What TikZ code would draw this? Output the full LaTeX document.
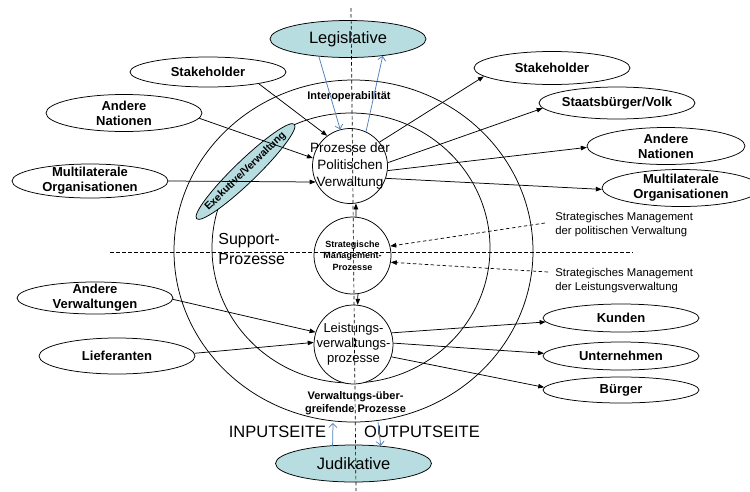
\documentclass[tikz,border=0pt]{standalone}
\usepackage{fontspec}
\setmainfont{Liberation Sans}
\usetikzlibrary{shapes.geometric,arrows.meta,calc}
\definecolor{tealfill}{RGB}{183,221,224}
\definecolor{bluearrow}{RGB}{79,129,189}
\begin{document}
\begin{tikzpicture}[x=1pt,y=-1pt, line width=0.75pt,
  ell/.style={ellipse, draw, fill=white, inner xsep=0pt, inner ysep=-5pt, minimum width=156pt, align=center, font=\fontsize{13}{15}\selectfont\bfseries},
  gov/.style={ellipse, draw, fill=tealfill, inner sep=0pt, minimum width=156pt, minimum height=37pt, font=\fontsize{16.5}{18}\selectfont},
  proc/.style={circle, draw, fill=white, inner sep=-12pt, align=center},
  arr/.style={-{Triangle[length=6pt,width=4.5pt]}},
  barr/.style={bluearrow, -{Straight Barb[length=4pt,width=8pt]}},
  dline/.style={dash pattern=on 3.5pt off 2.5pt, line width=0.7pt},
  darr/.style={dline, -{Triangle[length=6pt,width=4.5pt]}},
]
\path[use as bounding box] (0,0) rectangle (750,491);

% rings
\draw (353.5,251) ellipse [x radius=179.5pt, y radius=171pt];
\draw (351,248) ellipse [x radius=139pt, y radius=135pt];

% government bodies
\node[gov] (leg) at (348,39) {Legislative};
\node[gov] (jud) at (353.5,463.5) {Judikative};
\node[ellipse, draw, fill=tealfill, rotate=44, minimum width=136pt, minimum height=22pt, inner sep=-8pt, font=\fontsize{10.5}{12}\selectfont\bfseries] (exe) at (245.5,171.5) {Exekutive/Verwaltung};

% left ellipses
\node[ell, minimum height=30pt] (stL) at (208,72) {Stakeholder};
\node[ell, minimum height=37pt] (anL) at (124,113) {Andere\\Nationen};
\node[ell, minimum height=34pt] (mlL) at (90,181) {Multilaterale\\Organisationen};
\node[ell, minimum height=32pt] (anV) at (95,298) {Andere\\Verwaltungen};
\node[ell, minimum height=36pt] (lief) at (117,356) {Lieferanten};

% right ellipses
\node[ell, minimum height=33pt] (stR) at (552,68) {Stakeholder};
\node[ell, minimum height=32pt] (sbV) at (617,103) {Staatsbürger/Volk};
\node[ell, minimum height=37pt, minimum width=158pt] (anR) at (666,146) {Andere\\Nationen};
\node[ell, minimum height=37pt, minimum width=158pt] (mlR) at (681,188) {Multilaterale\\Organisationen};
\node[ell, minimum height=28pt] (kun) at (621,318) {Kunden};
\node[ell, minimum height=28pt] (unt) at (621,356) {Unternehmen};
\node[ell, minimum height=26pt] (bur) at (621,390) {Bürger};

% process circles
\node[proc, minimum size=75pt, font=\fontsize{13.5}{17}\selectfont] (pol) at (350,166) {Prozesse der\\Politischen\\Verwaltung};
\node[proc, minimum size=77pt, font=\fontsize{9}{11.5}\selectfont\bfseries] (stra) at (352.5,255.5) {Strategische\\Management-\\Prozesse};
\node[proc, minimum size=79pt, font=\fontsize{13}{15}\selectfont] (lei) at (353.5,344.5) {Leistungs-\\verwaltungs-\\prozesse};

% texts
\node[font=\fontsize{11}{13}\selectfont\bfseries] (iop) at (349,97) {Interoperabilität};
\node[font=\fontsize{16}{20}\selectfont, align=left, anchor=west, inner sep=0pt] (sup) at (218,249) {Support-\\Prozesse};
\node[font=\fontsize{11}{13}\selectfont\bfseries, align=center] (vup) at (355.5,403) {Verwaltungs-über-\\greifende Prozesse};
\node[font=\fontsize{16.5}{18}\selectfont] (inp) at (277.5,432) {INPUTSEITE};
\node[font=\fontsize{16.5}{18}\selectfont] (outp) at (422,432) {OUTPUTSEITE};
\node[font=\fontsize{11.3}{14}\selectfont, align=left, anchor=west, inner sep=0pt] (sm1) at (555,224.5) {Strategisches Management\\der politischen Verwaltung};
\node[font=\fontsize{11.3}{14}\selectfont, align=left, anchor=west, inner sep=0pt] (sm2) at (555,280.7) {Strategisches Management\\der Leistungsverwaltung};

% free ends
\coordinate (d1) at (545,223);
\coordinate (d2) at (548,272);
\coordinate (jin) at (333,423);
\coordinate (jout) at (378,422);
\coordinate (vtop) at (351,8);
\coordinate (vbot) at (356,491);
\coordinate (hl) at (110,252);
\coordinate (hr) at (633,252);

% input arrows to political processes
\draw[arr] (stL.-13) -- (pol.127);
\draw[arr] (anL.-4) -- (pol.168);
\draw[arr] (mlL.east) -- (pol.205);
% output arrows
\draw[arr] (pol.39) -- (stR.187);
\draw[arr] (pol.5) -- (sbV.184);
\draw[arr] (pol.-7) -- (anR.181);
\draw[arr] (pol.-19) -- (mlR.181.5);
% strategic
\draw[arr] (stra.85) -- (pol.-81);
\draw[arr] (stra.-82) -- (lei.84);
\draw[darr] (d1) -- (stra.14);
\draw[darr] (d2) -- (stra.-10);
% service processes
\draw[arr] (anV.-1) -- (lei.162);
\draw[arr] (lief.2) -- (lei.177);
\draw[arr] (lei.17) -- (kun.183);
\draw[arr] (lei.2) -- (unt.178);
\draw[arr] (lei.-18) -- (bur.178);
% blue arrows
\draw[barr] (leg.211) -- (pol.105);
\draw[barr] (pol.65) -- (leg.-26);
\draw[barr] (jud.139) -- (jin);
\draw[barr] (jout) -- (jud.33);

% dashed axes
\draw[dline] (hl) -- (hr);
\draw[dline] (vtop) -- (vbot);
\end{tikzpicture}
\end{document}
